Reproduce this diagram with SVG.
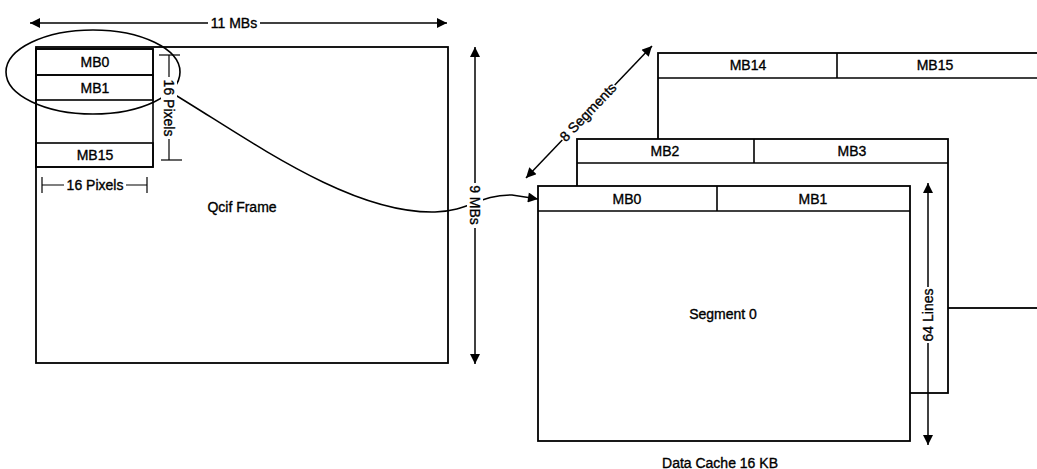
<svg xmlns="http://www.w3.org/2000/svg" width="1037" height="469" viewBox="0 0 1037 469">
<style>
.box{fill:#fff;stroke:#000;stroke-width:1.8}
.cell{fill:none;stroke:#000;stroke-width:1.6}
.t{font-family:"Liberation Sans",Arial,sans-serif;font-size:14px;fill:#000;stroke:#000;stroke-width:0.35;text-anchor:middle;dominant-baseline:central}
.bg{fill:#fff;stroke:none}
.dim{fill:none;stroke:#000;stroke-width:1.5}
.thin{fill:none;stroke:#000;stroke-width:1.2}
</style>
<defs>
<marker id="ah" viewBox="0 0 10 10" refX="10" refY="5" markerUnits="userSpaceOnUse" markerWidth="13" markerHeight="10" orient="auto-start-reverse">
<path d="M0,0 L10,5 L0,10 z" fill="#000"/>
</marker>
</defs>
<rect width="1037" height="469" fill="#fff"/>

<g id="qcif-frame">
<rect class="box" x="36" y="47" width="412" height="316"/>
<text class="t" x="242" y="207">Qcif Frame</text>
</g>
<g id="mb-column">
<rect class="cell" x="36" y="49" width="117" height="118"/>
<rect class="cell" x="36" y="49" width="117" height="26"/>
<text class="t" x="95" y="62">MB0</text>
<rect class="cell" x="36" y="75" width="117" height="25"/>
<text class="t" x="95" y="88">MB1</text>
<rect class="cell" x="36" y="143" width="117" height="24"/>
<text class="t" x="95" y="155">MB15</text>
</g>
<g id="selection-ellipse">
<ellipse cx="93" cy="72" rx="87" ry="42" fill="none" stroke="#000" stroke-width="1.6"/>
</g>

<g id="segment-7">
<rect class="box" x="658" y="53" width="390" height="255"/>
<line class="cell" x1="658" y1="78" x2="1048" y2="78"/>
<line class="cell" x1="837" y1="53" x2="837" y2="78"/>
<text class="t" x="748" y="65">MB14</text>
<text class="t" x="935" y="65">MB15</text>
</g>
<g id="segment-1">
<rect class="box" x="577" y="139" width="371" height="254"/>
<line class="cell" x1="577" y1="163" x2="948" y2="163"/>
<line class="cell" x1="754" y1="139" x2="754" y2="163"/>
<text class="t" x="665" y="151">MB2</text>
<text class="t" x="852" y="151">MB3</text>
</g>
<g id="segment-0">
<rect class="box" x="538" y="186" width="372" height="255"/>
<line class="cell" x1="538" y1="211" x2="910" y2="211"/>
<line class="cell" x1="717" y1="186" x2="717" y2="211"/>
<text class="t" x="627" y="199">MB0</text>
<text class="t" x="813" y="199">MB1</text>
<text class="t" x="723" y="314">Segment 0</text>
</g>

<g id="connectors">
<line class="dim" x1="30" y1="23" x2="447" y2="23" marker-start="url(#ah)" marker-end="url(#ah)"/>
<rect class="bg" x="208" y="15" width="52" height="16"/>
<text class="t" x="234" y="23">11 MBs</text>

<line class="dim" x1="475" y1="47" x2="475" y2="364" marker-start="url(#ah)" marker-end="url(#ah)"/>

<path class="dim" d="M172,93 C250,140 350,214 435,212 C470,211 478,195 512,195 L538,199" marker-end="url(#ah)"/>
<rect class="bg" x="467" y="183" width="16" height="45"/>
<text class="t" transform="translate(475,205) rotate(90)">9 MBs</text>

<line class="thin" x1="169" y1="55" x2="169" y2="160"/>
<line class="thin" x1="159" y1="55" x2="180" y2="55"/>
<line class="thin" x1="161" y1="160" x2="182" y2="160"/>
<rect class="bg" x="161" y="77" width="16" height="62"/>
<text class="t" transform="translate(169,108) rotate(90)">16 Pixels</text>

<line class="thin" x1="42" y1="185" x2="147" y2="185"/>
<line class="thin" x1="42" y1="177" x2="42" y2="193"/>
<line class="thin" x1="147" y1="177" x2="147" y2="193"/>
<rect class="bg" x="64" y="177" width="62" height="16"/>
<text class="t" x="95" y="185">16 Pixels</text>

<line class="dim" x1="526" y1="178" x2="652" y2="46" marker-start="url(#ah)" marker-end="url(#ah)"/>
<rect class="bg" x="-38" y="-8" width="76" height="16" transform="translate(588,112) rotate(-46.3)"/>
<text class="t" transform="translate(588,112) rotate(-46.3)">8 Segments</text>

<line class="dim" x1="928" y1="183" x2="928" y2="445" marker-start="url(#ah)" marker-end="url(#ah)"/>
<rect class="bg" x="920" y="287" width="16" height="56"/>
<text class="t" transform="translate(928,315) rotate(-90)">64 Lines</text>
</g>

<text class="t" x="720" y="463">Data Cache 16 KB</text>
</svg>
